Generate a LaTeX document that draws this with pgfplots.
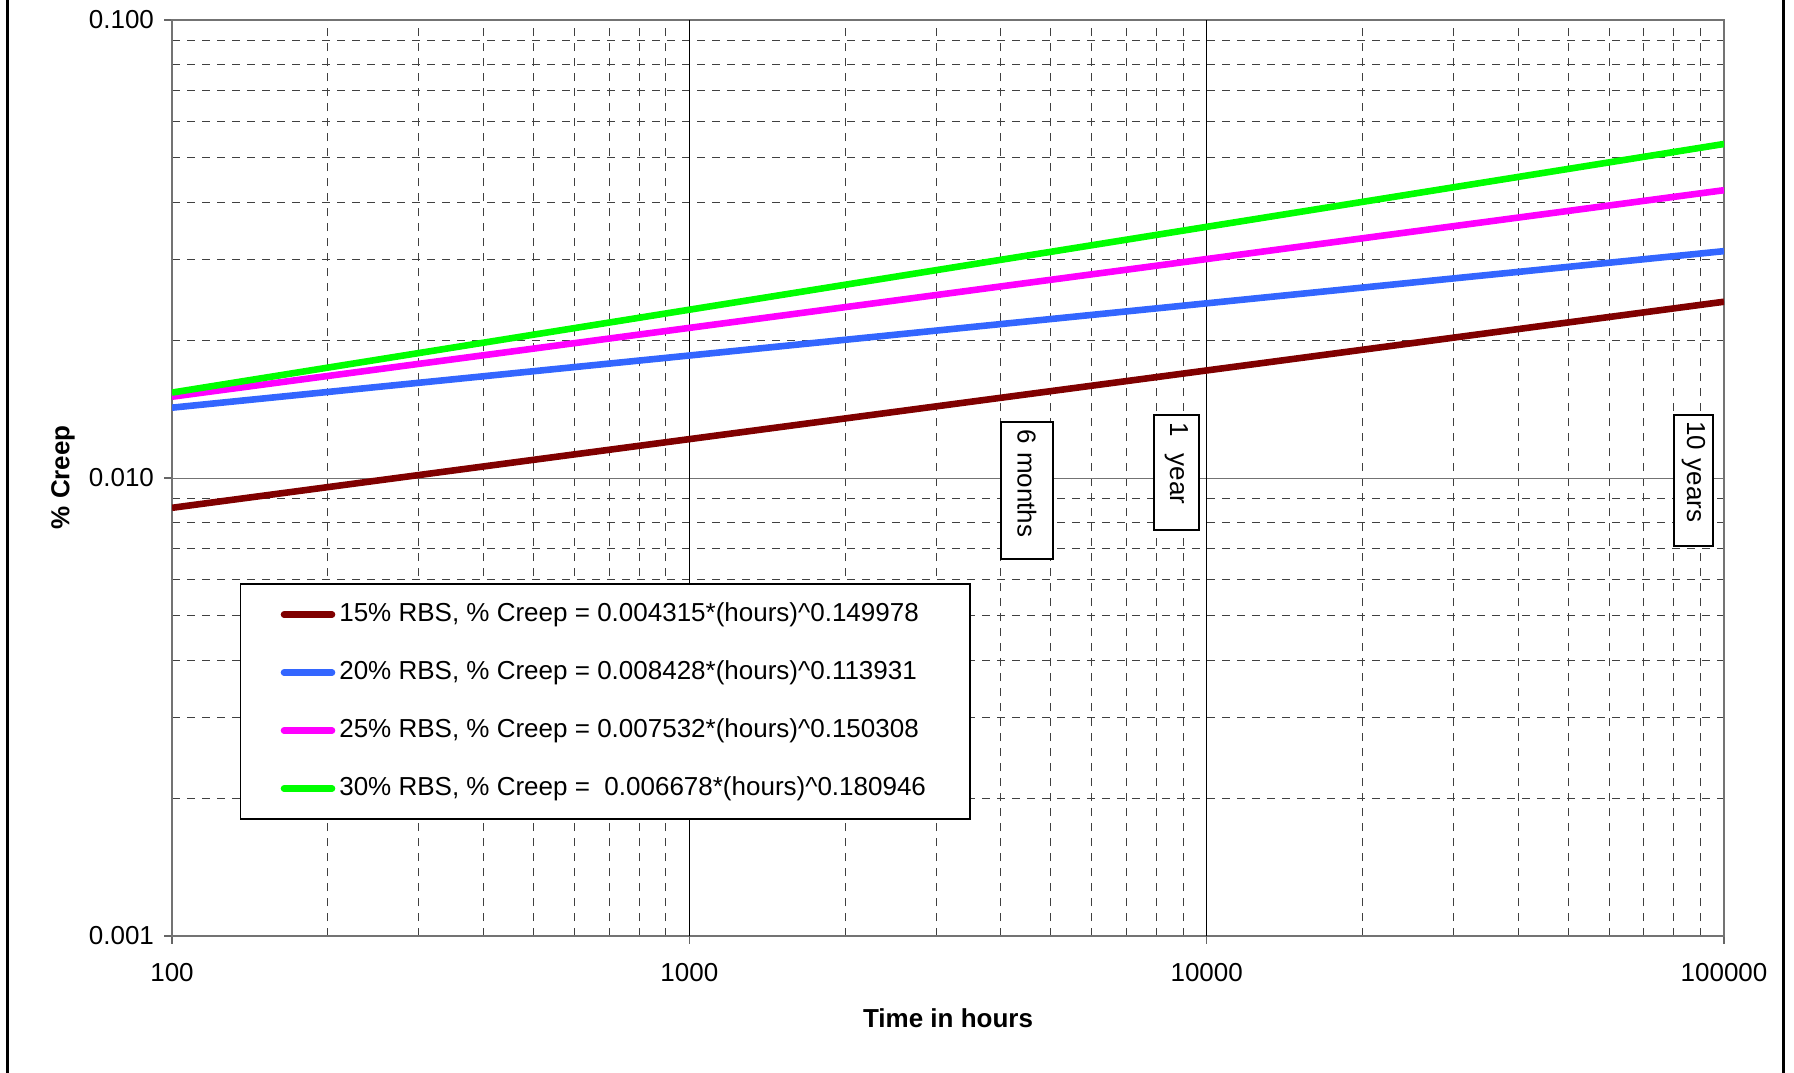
\documentclass[border=0pt]{standalone}
\usepackage{fontspec}
\setmainfont{Liberation Sans}
\usepackage{pgfplots}
\pgfplotsset{compat=1.18}

\definecolor{c15}{RGB}{128,0,0}
\definecolor{c20}{RGB}{51,102,255}
\definecolor{c25}{RGB}{255,0,255}
\definecolor{c30}{RGB}{0,255,0}

\newcommand{\cf}{\fontsize{13}{15.6}\selectfont}
\newcommand{\lf}{\fontsize{13}{15.6}\selectfont}

\begin{document}
\begin{tikzpicture}
\useasboundingbox (0,0) rectangle (897pt,536pt);
% outer frame (only the sides are visible)
\draw[line width=1.5pt] (3.5pt,-2pt) -- (3.5pt,540pt);
\draw[line width=1.5pt] (891.5pt,-2pt) -- (891.5pt,540pt);

\begin{axis}[
    at={(86pt,68pt)}, anchor=south west,
    scale only axis, width=776pt, height=458pt,
    xmode=log, ymode=log,
    xmin=100, xmax=100000, ymin=0.001, ymax=0.1,
    xtick={100,1000,10000,100000},
    xticklabels={100,1000,10000,100000},
    ytick={0.001,0.01,0.1},
    yticklabels={0.001,0.010,0.100},
    minor xtick={200,300,400,500,600,700,800,900,
                 2000,3000,4000,5000,6000,7000,8000,9000,
                 20000,30000,40000,50000,60000,70000,80000,90000},
    minor ytick={0.002,0.003,0.004,0.005,0.006,0.007,0.008,0.009,
                 0.02,0.03,0.04,0.05,0.06,0.07,0.08,0.09},
    extra x ticks={1000,10000},
    extra x tick labels={},
    extra x tick style={major grid style={solid, black, line width=0.6pt}},
    xtick pos=bottom, ytick pos=left,
    tick align=outside,
    major tick length=4pt, minor tick length=0pt,
    tick style={black!60, line width=0.75pt},
    tick label style={font=\cf},
    xticklabel style={yshift=-6pt},
    yticklabel style={xshift=-1.5pt},
    grid=both,
    major grid style={solid, black!55, line width=0.5pt},
    minor grid style={dash pattern=on 4pt off 3.5pt, black!75, line width=0.5pt},
    axis line style={black!55, line width=1pt},
    xlabel={Time in hours},
    ylabel={\% Creep},
    xlabel style={at={(axis description cs:0.5,-0.0895)}, anchor=center, font=\cf\bfseries},
    ylabel style={at={(axis description cs:-0.0702,0.5008)}, anchor=center, font=\cf\bfseries},
    legend cell align=left,
    legend image code/.code={\draw[#1, line cap=round] (0pt,0pt) -- (24pt,0pt);},
    legend style={at={(axis description cs:0.0438,0.385)}, anchor=north west,
        draw=black, line width=0.75pt, fill=white, font=\lf,
        inner xsep=20pt, inner ysep=7pt, row sep=12.5pt,
        nodes={text height=9.5pt, text depth=3pt}},
]

% % Creep = a*(hours)^b, values at each decade
\addplot[c15, line width=3.3pt] coordinates {
    (100,0.008609) (1000,0.012159) (10000,0.017175) (100000,0.024259)};
\addlegendentry{15\% RBS, \% Creep = 0.004315*(hours)\textasciicircum 0.149978}

\addplot[c20, line width=3.3pt] coordinates {
    (100,0.014243) (1000,0.018515) (10000,0.024068) (100000,0.031288)};
\addlegendentry{20\% RBS, \% Creep = 0.008428*(hours)\textasciicircum 0.113931}

\addplot[c25, line width=3.3pt] coordinates {
    (100,0.015050) (1000,0.021273) (10000,0.030071) (100000,0.042506)};
\addlegendentry{25\% RBS, \% Creep = 0.007532*(hours)\textasciicircum 0.150308}

\addplot[c30, line width=3.3pt] coordinates {
    (100,0.015365) (1000,0.023307) (10000,0.035353) (100000,0.053626)};
\addlegendentry{30\% RBS, \% Creep = \ 0.006678*(hours)\textasciicircum 0.180946}

% time markers
\node[draw=black, line width=0.75pt, fill=white, rotate=-90, anchor=west,
      font=\cf, inner xsep=3.5pt, text width=61.5pt, align=left,
      minimum height=26pt] at (axis description cs:0.5509,0.5619) {6 months};
\node[draw=black, line width=0.75pt, fill=white, rotate=-90, anchor=west,
      font=\cf, inner xsep=3.5pt, text width=50.5pt, align=left,
      minimum height=22.5pt] at (axis description cs:0.6472,0.5696) {1\ \ year};
\node[draw=black, line width=0.75pt, fill=white, rotate=-90, anchor=west,
      font=\cf, inner xsep=3pt, text width=59.5pt, align=left,
      minimum height=19.5pt] at (axis description cs:0.9804,0.5696) {10 years};

\end{axis}
\end{tikzpicture}
\end{document}
